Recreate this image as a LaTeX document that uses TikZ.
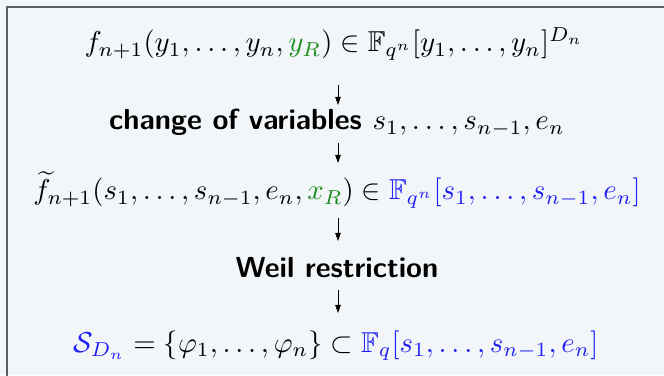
\documentclass[tikz,border=0pt]{standalone}
\usepackage{amsmath,amssymb}
\usetikzlibrary{arrows.meta}
\definecolor{bgc}{RGB}{242,246,249}
\definecolor{framec}{RGB}{95,95,95}
\definecolor{myg}{RGB}{25,140,25}
\definecolor{myb}{RGB}{30,30,245}
\begin{document}
\begin{tikzpicture}[x=1pt,y=1pt,
  txt/.style={inner sep=0pt,anchor=base,scale=2.88,transform shape},
  lbl/.style={inner sep=0pt,anchor=base,scale=2.9,transform shape,font=\sffamily\bfseries},
  flow/.style={line width=0.9pt,-{Triangle[length=8pt,width=5.5pt]}}]
\useasboundingbox (0,0) rectangle (664,375);
\fill[bgc] (0,0) rectangle (664,375);
\draw[framec,line width=1.6pt] (7,-10) -- (7,368) -- (680,368);
\node[txt] (l1) at (334,323) {$f_{n+1}(y_1,\ldots,y_n,{\color{myg}y_R})\in\mathbb{F}_{q^n}[y_1,\ldots,y_n]^{D_n}$};
\node[lbl] (l2) at (337,245) {change of variables \mbox{\normalfont$s_1,\ldots,s_{n-1},e_n$}};
\node[txt] (l3) at (337,175) {$\widetilde{f}_{n+1}(s_1,\ldots,s_{n-1},e_n,{\color{myg}x_R})\in{\color{myb}\mathbb{F}_{q^n}[s_1,\ldots,s_{n-1},e_n]}$};
\node[lbl] (l4) at (337,97) {Weil restriction};
\node[txt] (l5) at (336,23) {${\color{myb}\mathcal{S}_{D_n}}=\{\varphi_1,\ldots,\varphi_n\}\subset{\color{myb}\mathbb{F}_q[s_1,\ldots,s_{n-1},e_n]}$};
\coordinate (a1s) at (338,290); \coordinate (a1e) at (338,270);
\coordinate (a2s) at (338,232); \coordinate (a2e) at (338,212);
\coordinate (a3s) at (338,157); \coordinate (a3e) at (338,134);
\coordinate (a4s) at (338,85); \coordinate (a4e) at (338,62);
\draw[flow] (a1s) -- (a1e);
\draw[flow] (a2s) -- (a2e);
\draw[flow] (a3s) -- (a3e);
\draw[flow] (a4s) -- (a4e);
\end{tikzpicture}
\end{document}
